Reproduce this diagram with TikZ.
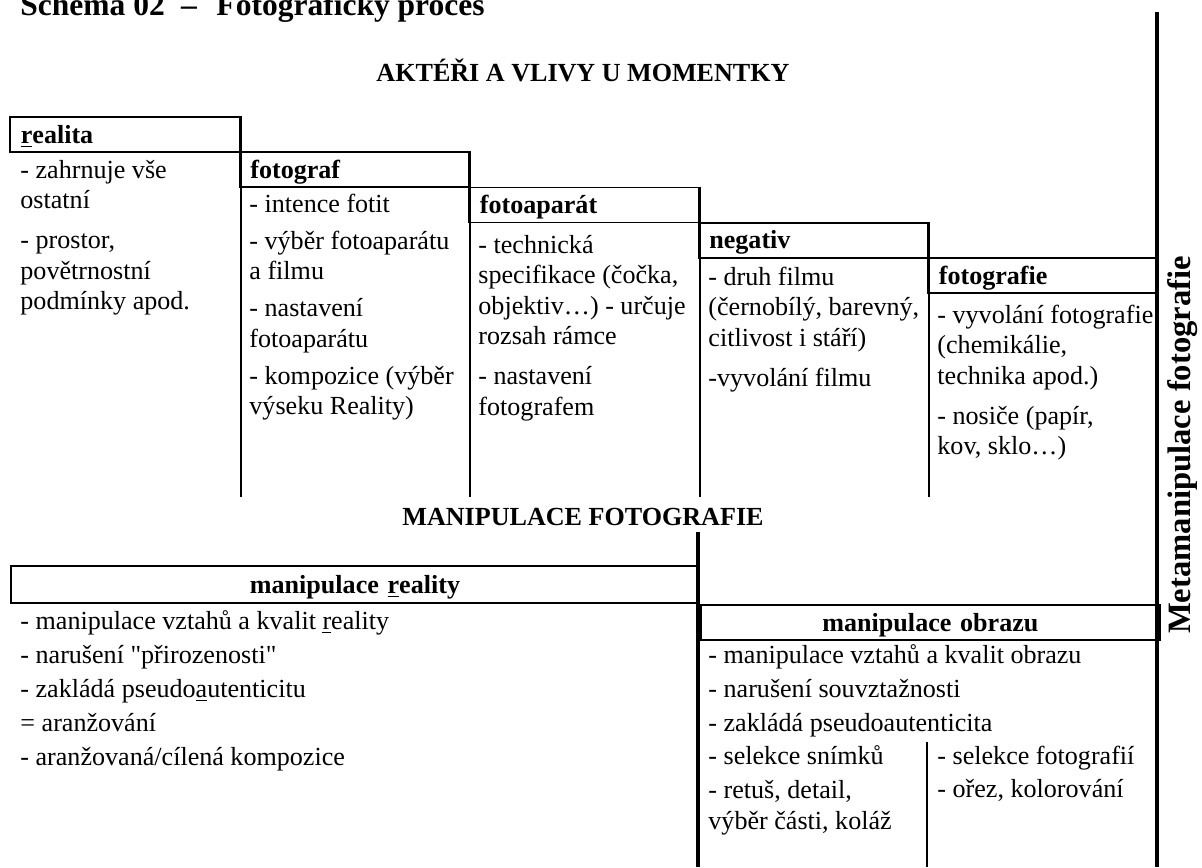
\documentclass[tikz,border=0pt]{standalone}
\usepackage{fontspec}
\setmainfont{Liberation Serif}

\begin{document}
\begin{tikzpicture}[
  x=0.46pt, y=-0.46pt,
  hdr/.style={draw, line width=0.9pt, anchor=north west, inner xsep=5pt,
              text width=95.6pt, align=flush left, minimum height=16.1pt,
              text height=8pt, text depth=0pt,
              font=\fontsize{12}{14}\selectfont\bfseries},
  body/.style={anchor=base west, inner sep=0pt, text width=104pt, align=flush left,
               font=\fontsize{12}{14.03}\selectfont},
  lowbody/.style={body, text width=210pt, font=\fontsize{12}{15.64}\selectfont},
  heading/.style={anchor=base, inner sep=0pt,
                  font=\fontsize{12}{14}\selectfont\bfseries},
  colline/.style={line width=0.9pt},
  bar/.style={line width=1.4pt},
  thinline/.style={line width=0.5pt}]

\useasboundingbox (0,0) rectangle (1202,867);

% ---------- title ----------
\node[anchor=base west, inner sep=0pt, font=\fontsize{14.5}{17}\selectfont\bfseries]
      (title) at (20,15) {Schéma 02\hspace{7.5pt}–\hspace{9pt}Fotografický proces};
\node[rotate=90, anchor=base, inner sep=0pt, font=\fontsize{15}{18}\selectfont\bfseries]
      (meta) at (1190,445) {Metamanipulace fotografie};
\coordinate (barTop) at (1157,12);
\coordinate (barBot) at (1157,867);
\draw[bar] (barTop) -- (barBot);

% ---------- actors (staircase) ----------
\node[heading] (actors) at (583,81) {AKTÉŘI A VLIVY U MOMENTKY};
\node[hdr] (hReal)  at (9,116)       {\underline{r}ealita};
\node[hdr] (hFoto)  at (238.5,151.25) {fotograf};
\node[hdr] (hApar)  at (468,186.5)    {fotoaparát};
\node[hdr] (hNeg)   at (697.5,221.75) {negativ};
\node[hdr] (hFotie) at (927,257)      {fotografie};

\node[body] (bReal) at (20,178)
      {- zahrnuje vše\\ostatní\\[4.4pt]- prostor,\\povětrnostní\\podmínky apod.};
\node[body] (bFoto) at (249,212)
      {- intence fotit\\[3pt]- výběr fotoaparátu\\a filmu\\[3pt]- nastavení\\fotoaparátu\\[3pt]- kompozice (výběr\\výseku Reality)};
\node[body] (bApar) at (478,253)
      {- technická\\specifikace (čočka,\\objektiv…) - určuje\\rozsah rámce\\[4.4pt]- nastavení\\fotografem};
\node[body] (bNeg) at (708,285)
      {- druh filmu\\(černobílý, barevný,\\citlivost i stáří)\\[4.4pt]-vyvolání filmu};
\node[body] (bFotie) at (937,323)
      {- vyvolání fotografie\\(chemikálie,\\technika apod.)\\[4.4pt]- nosiče (papír,\\kov, sklo…)};

% column rules
\coordinate (cut) at (0,497);
\draw[colline] (hReal.north east) -- (hReal.north east |- cut);
\draw[colline] (hFoto.north east) -- (hFoto.north east |- cut);
\draw[colline] (hApar.north east) -- (hApar.north east |- cut);
\draw[colline] (hNeg.north east) -- (hNeg.north east |- cut);

% ---------- manipulation ----------
\node[heading] (manip) at (583,525) {MANIPULACE FOTOGRAFIE};
\node[hdr, align=center, text width=306.5pt, minimum height=17pt]
      (hManR) at (10,565) {manipulace \underline{r}eality};
\node[hdr, align=center, text width=201.1pt]
      (hManO) at (hManR.south east) {manipulace obrazu};
\coordinate (midTop) at (698,532);
\draw[bar] (midTop) -- (midTop |- barBot);

\node[lowbody] (bManR) at (20,629)
      {- manipulace vztahů a kvalit \underline{r}eality\\- narušení \textquotedbl přirozenosti\textquotedbl\\- zakládá pseudo\underline{a}utenticitu\\= aranžování\\- aranžovaná/cílená kompozice};
\node[lowbody] (bManO) at (708,663)
      {- manipulace vztahů a kvalit obrazu\\- narušení souvztažnosti\\- zakládá pseudoautenticita};
\node[body] (bSnim) at (708,764)
      {- selekce snímků\\[2pt]- retuš, detail,\\výběr části, koláž};
\node[body] (bFotos) at (937,764)
      {- selekce fotografií\\[1.5pt]- ořez, kolorování};
\coordinate (divTop) at (927,742);
\draw[thinline] (divTop) -- (divTop |- barBot);
\end{tikzpicture}
\end{document}
